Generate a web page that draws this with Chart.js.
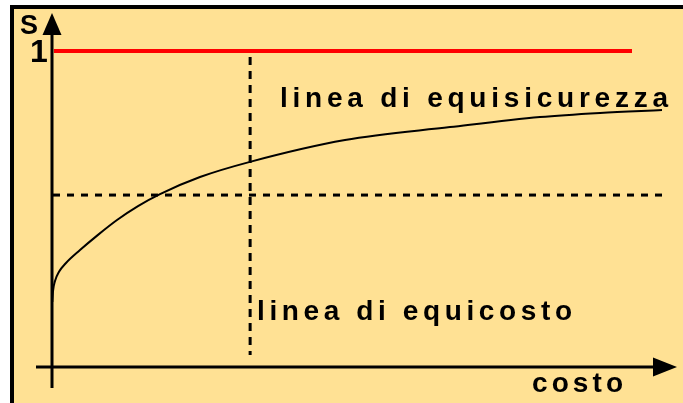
<!DOCTYPE html>
<html>
<head>
<meta charset="utf-8">
<script src="https://cdn.jsdelivr.net/npm/chart.js@4/dist/chart.umd.min.js"></script>
<style>
  body { margin: 0; background: #fff; }
  #wrap { position: relative; width: 683px; height: 403px; overflow: hidden; }
  #frame {
    position: absolute; left: 10px; top: 5px; width: 700px; height: 420px;
    border-left: 4px solid #000; border-top: 4px solid #000;
    background: #FFE194;
  }
  #chart { position: absolute; left: 0; top: 0; }
</style>
</head>
<body>
<div id="wrap">
  <div id="frame"></div>
  <canvas id="chart" width="683" height="403"></canvas>
</div>
<script>
// curve of equal safety (costo -> S)
const costo = [0.05, 0.16, 0.48, 1.12, 2.24, 4.48, 7.36, 10.4, 13.76, 17.28, 23.68, 31.68, 46.88, 63.68, 78.08, 87.68, 97.6];
const sicurezza = [0.206, 0.240, 0.272, 0.301, 0.329, 0.370, 0.418, 0.465, 0.509, 0.547, 0.601, 0.649, 0.718, 0.759, 0.791, 0.804, 0.813];

// reference lines
const sMax = 1;              // red line S = 1
const sMaxEnd = 92.8;
const sLevel = 0.544;        // horizontal dashed level
const sLevelRange = [0.16, 97.6];
const costoLevel = 31.7;     // vertical dashed: equal cost
const costoLevelRange = [0.038, 0.981];

const yTickLabels = ['1'];
const yTickValues = [1];
const axisTitleX = 'costo';
const axisTitleY = 'S';
const labelSicurezza = 'linea di equisicurezza';
const labelCosto = 'linea di equicosto';

const FONT = '"Liberation Sans", Arial, sans-serif';

function spacedText(ctx, text, x, y, size, targetWidth) {
  ctx.save();
  ctx.font = 'bold ' + size + 'px ' + FONT;
  ctx.letterSpacing = '0px';
  const w = ctx.measureText(text).width;
  const sp = targetWidth ? (targetWidth - w) / (text.length - 1) : 0;
  ctx.letterSpacing = sp + 'px';
  ctx.fillStyle = '#000';
  ctx.textAlign = 'left';
  ctx.textBaseline = 'alphabetic';
  ctx.fillText(text, x, y);
  ctx.restore();
}

const axesPlugin = {
  id: 'axesPlugin',
  afterDatasetsDraw(chart) {
    const ctx = chart.ctx;
    const xs = chart.scales.x, ys = chart.scales.y;
    const x0 = xs.getPixelForValue(0), y0 = ys.getPixelForValue(0);
    const xEnd = xs.getPixelForValue(xs.max), yTop = ys.getPixelForValue(ys.max);
    ctx.save();
    ctx.strokeStyle = '#000';
    ctx.fillStyle = '#000';
    ctx.lineWidth = 3;
    // y axis
    ctx.beginPath();
    ctx.moveTo(x0, y0 + 21);
    ctx.lineTo(x0, yTop + 15);
    ctx.stroke();
    ctx.beginPath();
    ctx.moveTo(x0, yTop);
    ctx.lineTo(x0 - 9.5, yTop + 22);
    ctx.lineTo(x0 + 9.5, yTop + 22);
    ctx.closePath();
    ctx.fill();
    // x axis
    ctx.beginPath();
    ctx.moveTo(x0 - 16, y0);
    ctx.lineTo(xEnd - 15, y0);
    ctx.stroke();
    ctx.beginPath();
    ctx.moveTo(xEnd, y0);
    ctx.lineTo(xEnd - 24, y0 - 9.5);
    ctx.lineTo(xEnd - 24, y0 + 9.5);
    ctx.closePath();
    ctx.fill();
    ctx.restore();

    // texts
    spacedText(ctx, axisTitleY, 20, 34, 27, 0);
    yTickValues.forEach((v, i) => {
      spacedText(ctx, yTickLabels[i], 30, ys.getPixelForValue(v) + 11, 32, 0);
    });
    spacedText(ctx, axisTitleX, 532, 392, 28, 91);
    spacedText(ctx, labelSicurezza, 280, 107, 28, 388);
    spacedText(ctx, labelCosto, 257, 320, 28, 315);
  }
};

new Chart(document.getElementById('chart'), {
  type: 'line',
  data: {
    datasets: [
      {
        data: costo.map((c, i) => ({ x: c, y: sicurezza[i] })),
        borderColor: '#000',
        borderWidth: 2,
        pointRadius: 0,
        cubicInterpolationMode: 'monotone',
        fill: false
      },
      {
        data: [{ x: 0.3, y: sMax }, { x: sMaxEnd, y: sMax }],
        borderColor: '#ff0000',
        borderWidth: 4,
        pointRadius: 0
      },
      {
        data: [{ x: sLevelRange[0], y: sLevel }, { x: sLevelRange[1], y: sLevel }],
        borderColor: '#000',
        borderWidth: 3,
        borderDash: [7, 7],
        pointRadius: 0
      },
      {
        data: [{ x: costoLevel, y: costoLevelRange[1] }, { x: costoLevel, y: costoLevelRange[0] }],
        borderColor: '#000',
        borderWidth: 3,
        borderDash: [8, 6],
        pointRadius: 0
      }
    ]
  },
  options: {
    responsive: false,
    animation: false,
    layout: { padding: { left: 52, right: 6, top: 13, bottom: 36 } },
    plugins: { legend: { display: false }, tooltip: { enabled: false } },
    scales: {
      x: { type: 'linear', min: 0, max: 100, display: false },
      y: { type: 'linear', min: 0, max: 1.12, display: false }
    }
  },
  plugins: [axesPlugin]
});
</script>
</body>
</html>
